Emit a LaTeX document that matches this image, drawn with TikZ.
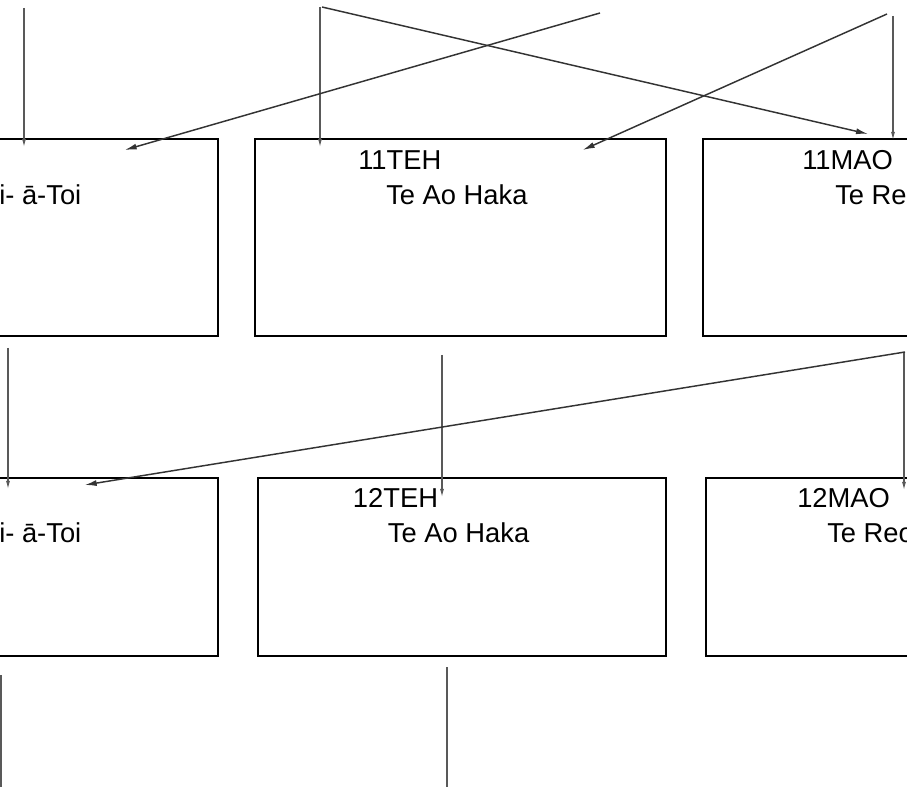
\documentclass[tikz,border=0pt]{standalone}
\usepackage{fontspec}
\setmainfont{Liberation Sans}
\usetikzlibrary{arrows.meta,calc,positioning}

\begin{document}
\begin{tikzpicture}[x=0.75pt,y=-0.75pt,
  box/.style={draw,line width=1.6pt,inner sep=0pt,outer sep=0pt,anchor=north west},
  lab/.style={anchor=base west,inner sep=0pt,font=\fontsize{20.5}{24}\selectfont},
  feed/.style={draw=black!65,line width=0.8pt,-{Latex[length=6pt,width=3pt]}},
  cross/.style={draw=black!80,line width=1.1pt,-{Latex[length=9pt,width=4.5pt]}}]
  \useasboundingbox (0,0) rectangle (907,787);
  \clip (0,0) rectangle (907,787);
  % year 11 and year 12 rows
  \foreach \n/\x in {art/-193,teh/255,mao/703}
    \node[box,minimum width=308pt,minimum height=147.75pt] (\n11) at (\x,139) {};
  \foreach \n/\x in {art/-190.3,teh/257.7,mao/706}
    \node[box,minimum width=306pt,minimum height=133.5pt] (\n12) at (\x,478) {};

  \node[lab] (art11a) at ($(art11.north west)+(192,66)$) {i- ā-Toi};
  \node[lab] (teh11a) at ($(teh11.north west)+(103,31)$) {11TEH};
  \node[lab] (teh11b) at ($(teh11.north west)+(131,66)$) {Te Ao Haka};
  \node[lab] (mao11a) at ($(mao11.north west)+(99,31)$) {11MAO};
  \node[lab] (mao11b) at ($(mao11.north west)+(132,66)$) {Te Reo};

  \node[lab] (art12a) at ($(art12.north west)+(189.3,65)$) {i- ā-Toi};
  \node[lab] (teh12a) at ($(teh12.north west)+(95,30)$) {12TEH};
  \node[lab] (teh12b) at ($(teh12.north west)+(130,65)$) {Te Ao Haka};
  \node[lab] (mao12a) at ($(mao12.north west)+(91,30)$) {12MAO};
  \node[lab] (mao12b) at ($(mao12.north west)+(121,65)$) {Te Reo};

  % free ends of connectors from outside the view
  \coordinate (s1) at (24,8);
  \coordinate (s2) at (320,7);
  \coordinate (s3) at (322,7);
  \coordinate (s4) at (600,13);
  \coordinate (s5) at (887,14);
  \coordinate (s6) at (893,16);
  \coordinate (m1) at (8,348);
  \coordinate (m2) at (442,355);
  \coordinate (m3) at (905,352);
  \coordinate (m4) at (904,352);
  \coordinate (b1) at (1,675);
  \coordinate (b2) at (447,667);

  \draw[feed] (s1) -- ($(s1 |- art11.north)+(0,8)$);
  \draw[feed] (s2) -- ($(s2 |- teh11.north)+(0,8)$);
  \draw[feed] (s6) -- ($(s6 |- mao11.north)+(0,1)$);
  \draw[cross] (s3) -- ($(mao11.north west)+(165,-5)$);
  \draw[cross] (s4) -- ($(art11.north east)+(-93,11)$);
  \draw[cross] (s5) -- ($(teh11.north east)+(-83,11)$);

  \draw[feed] (m1) -- ($(m1 |- art12.north)+(0,11)$);
  \draw[feed] (m2) -- ($(m2 |- teh12.north)+(0,19)$);
  \draw[feed] (m4) -- ($(m4 |- mao12.north)+(0,12)$);
  \draw[cross] (m3) -- ($(art12.north east)+(-133,7)$);

  \draw[feed] (b1) -- ++(0,140);
  \draw[feed] (b2) -- ++(0,140);
\end{tikzpicture}
\end{document}
